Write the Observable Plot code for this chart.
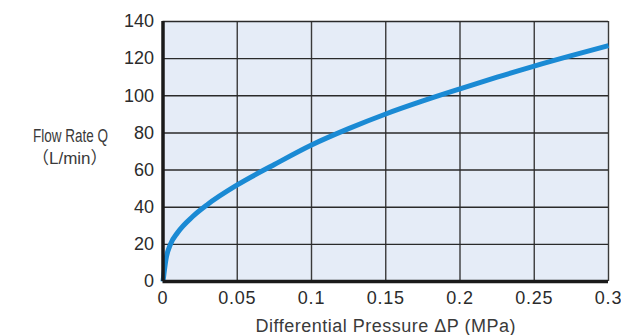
<!DOCTYPE html>
<html>
<head>
<meta charset="utf-8">
<script src="https://cdn.jsdelivr.net/npm/d3@7"></script>
<script src="https://cdn.jsdelivr.net/npm/@observablehq/plot@0.6"></script>
<style>
  body { margin: 0; background: #fff; }
  #chart svg { font-family: "Liberation Sans", Arial, sans-serif; }
</style>
</head>
<body>
<div id="chart"></div>
<script>
// Differential pressure (MPa) and flow rate (L/min)
const pressure = [0, 0.002, 0.005, 0.01, 0.02, 0.03, 0.05, 0.075, 0.1, 0.125, 0.15, 0.175, 0.2, 0.225, 0.25, 0.275, 0.3];
const flow     = [0, 12, 20, 26.5, 35, 41.5, 52, 63, 73.5, 82.3, 90.2, 97.2, 103.7, 110, 116, 121.6, 127];
const xTicks = [0, 0.05, 0.1, 0.15, 0.2, 0.25, 0.3];
const xTickLabels = ["0", "0.05", "0.1", "0.15", "0.2", "0.25", "0.3"];
const yTicks = [0, 20, 40, 60, 80, 100, 120, 140];
const xLabel = "Differential Pressure \u0394P (MPa)";
const yLabel1 = "Flow Rate Q";
const yLabel2 = "\uFF08L/min\uFF09";

const data = pressure.map((p, i) => ({p, q: flow[i]}));

const plot = Plot.plot({
  width: 621,
  height: 335,
  marginLeft: 162.5,
  marginRight: 13,
  marginTop: 21,
  marginBottom: 54,
  x: {domain: [0, 0.3]},
  y: {domain: [0, 140]},
  style: {fontFamily: "'Liberation Sans', Arial, sans-serif", color: "#2b2b2b", background: "#fff"},
  marks: [
    Plot.frame({fill: "#e5ecf7", stroke: null}),
    Plot.ruleX(xTicks.slice(1), {stroke: "#3a3a3a", strokeWidth: 1.4}),
    Plot.ruleY(yTicks.slice(1), {stroke: "#2a2a2a", strokeWidth: 1.4}),
    Plot.line(data, {x: "p", y: "q", curve: "monotone-x", stroke: "#1a8ad4", strokeWidth: 5, strokeLinecap: "butt"}),
    Plot.ruleX([0], {stroke: "#1a1a1a", strokeWidth: 3.5}),
    Plot.ruleY([0], {stroke: "#1a1a1a", strokeWidth: 3.5}),
    Plot.axisY(yTicks, {tickSize: 0, tickPadding: 9, fontSize: 18, label: null, letterSpacing: 0.8}),
    Plot.axisX(xTicks, {tickSize: 0, tickPadding: 10, fontSize: 18, tickFormat: (d, i) => xTickLabels[i],
      label: xLabel, labelAnchor: "center", labelArrow: "none", labelOffset: 50}),
    Plot.text([yLabel1], {frameAnchor: "left", text: d => d, dx: -130, dy: -15, textAnchor: "start", fontSize: 18, lineAnchor: "middle", fill: "#3a3a3a"}),
    Plot.text([yLabel2], {frameAnchor: "left", text: d => d, dx: -131, dy: 7, textAnchor: "start", fontSize: 17, lineAnchor: "middle", fill: "#3a3a3a",
      fontFamily: "'Liberation Sans', 'Noto Sans CJK JP', sans-serif"})
  ]
});
document.getElementById("chart").appendChild(plot);

// font tweaks: larger x label, condensed y label line
d3.select(plot).selectAll("[aria-label='x-axis label'] text")
  .attr("font-size", 18).attr("letter-spacing", 0.5).attr("fill", "#3a3a3a");
d3.select(plot).selectAll("[aria-label='x-axis tick label'] text").attr("letter-spacing", 0.8);
d3.select(plot).selectAll("g[aria-label='text'] text").each(function() {
  const t = d3.select(this);
  if (t.text() === yLabel1) t.attr("textLength", 75).attr("lengthAdjust", "spacingAndGlyphs");
});
</script>
</body>
</html>
